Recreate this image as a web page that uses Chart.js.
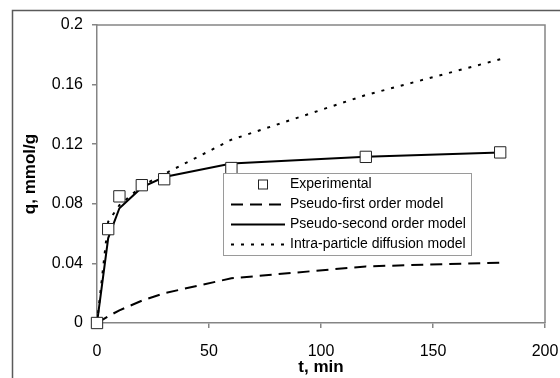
<!DOCTYPE html>
<html>
<head>
<meta charset="utf-8">
<script src="https://cdn.jsdelivr.net/npm/chart.js@4.4.1/dist/chart.umd.min.js"></script>
<style>
  html, body { margin: 0; padding: 0; background: #fff; }
  #wrap { width: 560px; height: 378px; }
</style>
</head>
<body>
<div id="wrap"><canvas id="kinetics" width="560" height="378"></canvas></div>
<script>
// Adsorption kinetics data (t in min, q in mmol/g)
const timeMin = [0, 5, 10, 20, 30, 60, 120, 180];
const qExperimental = [0, 0.063, 0.085, 0.0925, 0.0965, 0.104, 0.1115, 0.1145];
const qPseudoFirst = [0, 0.0045, 0.0085, 0.015, 0.020, 0.030, 0.038, 0.0405];
const qPseudoSecond = [0, 0.057, 0.077, 0.091, 0.098, 0.107, 0.1115, 0.1145];
const qIntraParticle = [0, 0.068, 0.079, 0.092, 0.100, 0.123, 0.153, 0.177];

const seriesNames = ['Experimental', 'Pseudo-first order model', 'Pseudo-second order model', 'Intra-particle diffusion model'];
const yTickLabels = ['0', '0.04', '0.08', '0.12', '0.16', '0.2'];
const xTickLabels = ['0', '50', '100', '150', '200'];

const FONT = "'Liberation Sans', Arial, sans-serif";

function toPoints(ys) {
  return timeMin.map((t, i) => ({ x: t, y: ys[i] }));
}

// outer frame + plot border
const framePlugin = {
  id: 'frame',
  beforeDraw(chart) {
    const ctx = chart.ctx;
    ctx.save();
    ctx.strokeStyle = '#5a5a5a';
    ctx.lineWidth = 1.5;
    ctx.beginPath();
    ctx.moveTo(12.5, chart.height);
    ctx.lineTo(12.5, 10.5);
    ctx.lineTo(chart.width, 10.5);
    ctx.stroke();
    ctx.restore();
  },
  beforeDatasetsDraw(chart) {
    const { ctx, chartArea: a } = chart;
    ctx.save();
    ctx.strokeStyle = '#858585';
    ctx.lineWidth = 1.5;
    ctx.beginPath();
    ctx.moveTo(a.left, a.top);
    ctx.lineTo(a.right, a.top);
    ctx.lineTo(a.right, a.bottom);
    ctx.stroke();
    ctx.restore();
  }
};

// legend box inside the plot, like the original
const boxLegend = {
  id: 'boxLegend',
  afterDraw(chart) {
    const { ctx, chartArea: a } = chart;
    const x0 = a.left + 126, y0 = a.top + 148, w = 248, h = 82;
    ctx.save();
    ctx.fillStyle = '#fff';
    ctx.fillRect(x0, y0, w, h);
    ctx.strokeStyle = '#9a9a9a';
    ctx.lineWidth = 1;
    ctx.strokeRect(x0 + 0.5, y0 + 0.5, w, h);
    ctx.font = '14px ' + FONT;
    ctx.textBaseline = 'middle';
    chart.data.datasets.forEach((ds, i) => {
      const cy = y0 + 11.5 + i * 20;
      if (i === 0) {
        ctx.fillStyle = '#fff';
        ctx.strokeStyle = '#222';
        ctx.lineWidth = 1;
        ctx.fillRect(x0 + 35, cy - 4.5, 9, 9);
        ctx.strokeRect(x0 + 35.5, cy - 4.5, 9, 9);
      } else {
        ctx.strokeStyle = '#000';
        ctx.lineWidth = ds.borderWidth;
        ctx.setLineDash(ds.borderDash || []);
        ctx.beginPath();
        ctx.moveTo(x0 + 8, cy);
        ctx.lineTo(x0 + 62, cy);
        ctx.stroke();
        ctx.setLineDash([]);
      }
      ctx.fillStyle = '#000';
      ctx.fillText(ds.label, x0 + 67, cy);
    });
    ctx.restore();
  }
};

new Chart(document.getElementById('kinetics'), {
  type: 'scatter',
  data: {
    datasets: [
      {
        label: seriesNames[0],
        data: toPoints(qExperimental),
        showLine: false,
        clip: false,
        pointStyle: 'rect',
        pointRadius: 8,
        pointBackgroundColor: '#fff',
        pointBorderColor: '#222',
        pointBorderWidth: 1
      },
      {
        label: seriesNames[1],
        data: toPoints(qPseudoFirst),
        showLine: true,
        borderColor: '#000',
        borderWidth: 2,
        borderDash: [12, 7],
        pointRadius: 0,
        tension: 0
      },
      {
        label: seriesNames[2],
        data: toPoints(qPseudoSecond),
        showLine: true,
        borderColor: '#000',
        borderWidth: 2,
        pointRadius: 0,
        tension: 0
      },
      {
        label: seriesNames[3],
        data: toPoints(qIntraParticle),
        showLine: true,
        borderColor: '#000',
        borderWidth: 2,
        borderDash: [3, 7],
        pointRadius: 0,
        tension: 0
      }
    ]
  },
  options: {
    responsive: false,
    animation: false,
    layout: { padding: { left: 12, top: 25, right: 15, bottom: 0 } },
    plugins: {
      legend: { display: false },
      tooltip: { enabled: false }
    },
    scales: {
      x: {
        type: 'linear',
        min: 0,
        max: 200,
        afterFit: s => { s.height = 55; s.paddingLeft = 0; s.paddingRight = 0; },
        ticks: {
          stepSize: 50,
          color: '#000',
          padding: 14,
          font: { family: FONT, size: 16 },
          callback: (v, i) => xTickLabels[i]
        },
        grid: { drawOnChartArea: false, drawTicks: true, tickLength: 5, color: '#858585', lineWidth: 1.5 },
        border: { color: '#858585', width: 1.5 },
        title: {
          display: true,
          text: 't, min',
          color: '#000',
          font: { family: FONT, size: 17, weight: 'bold' },
          padding: { top: 0, bottom: 0 }
        }
      },
      y: {
        type: 'linear',
        min: 0,
        max: 0.2,
        afterFit: s => { s.width = 85; },
        ticks: {
          stepSize: 0.04,
          color: '#000',
          padding: 9,
          font: { family: FONT, size: 16 },
          callback: (v, i) => yTickLabels[i]
        },
        grid: { drawOnChartArea: false, drawTicks: true, tickLength: 5, color: '#858585', lineWidth: 1.5 },
        border: { color: '#858585', width: 1.5 },
        title: {
          display: true,
          text: 'q, mmol/g',
          color: '#000',
          font: { family: FONT, size: 17, weight: 'bold' },
          padding: { top: 8, bottom: 0 }
        }
      }
    }
  },
  plugins: [framePlugin, boxLegend]
});
</script>
</body>
</html>
